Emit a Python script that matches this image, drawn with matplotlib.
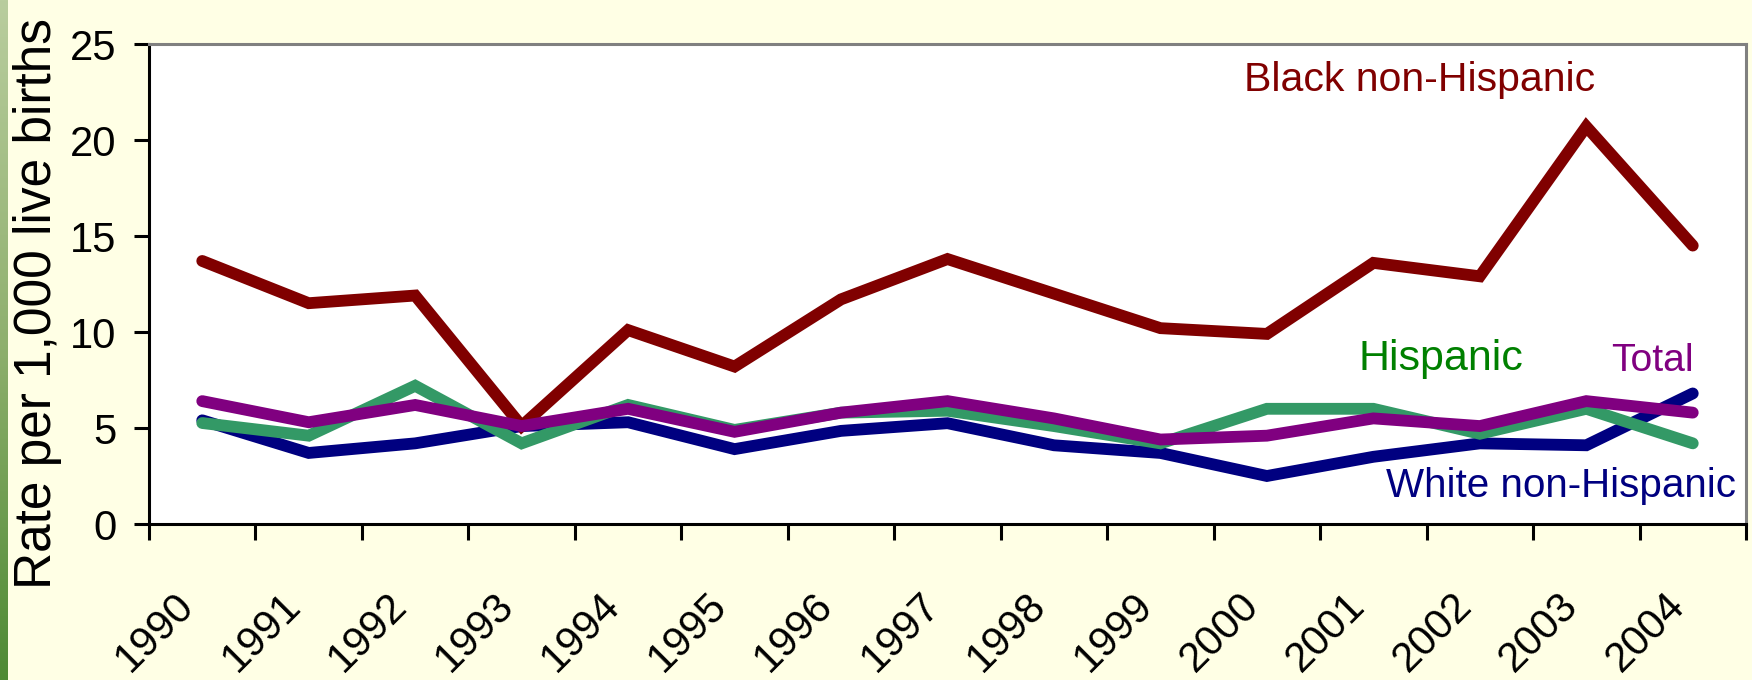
import numpy as np
import matplotlib
matplotlib.use("Agg")
import matplotlib.pyplot as plt
from matplotlib import font_manager

years = ["1990", "1991", "1992", "1993", "1994", "1995", "1996", "1997",
         "1998", "1999", "2000", "2001", "2002", "2003", "2004"]
black = [13.7, 11.5, 11.9, 5.1, 10.1, 8.2, 11.7, 13.8, 12.0, 10.2, 9.9, 13.6, 12.9, 20.7, 14.5]
white = [5.4, 3.7, 4.2, 5.1, 5.3, 3.9, 4.85, 5.25, 4.1, 3.7, 2.5, 3.5, 4.2, 4.1, 6.8]
hispanic = [5.26, 4.6, 7.2, 4.2, 6.2, 4.9, 5.8, 5.9, 5.1, 4.2, 6.0, 6.0, 4.7, 6.0, 4.2]
total = [6.4, 5.3, 6.2, 5.1, 6.0, 4.8, 5.8, 6.4, 5.5, 4.4, 4.6, 5.5, 5.1, 6.4, 5.8]

# narrow face if there is one, otherwise plain Liberation Sans a bit smaller
names = {f.name for f in font_manager.fontManager.ttflist}
if "Liberation Sans Narrow" in names:
    nf, k = "Liberation Sans Narrow", 1.0
else:
    nf, k = "Liberation Sans", 0.91
plt.rcParams["font.family"] = ["Liberation Sans", "DejaVu Sans"]

bg = "#FFFFE5"
fig = plt.figure(figsize=(17.52, 6.8), dpi=100, facecolor=bg)

# green strip on the left edge
strip = fig.add_axes([0, 0, 8 / 1752, 1])
grad = np.linspace(0, 1, 256).reshape(-1, 1)
cmap = matplotlib.colors.LinearSegmentedColormap.from_list("g", ["#B9CD9E", "#8FB06E", "#4E8A34"])
strip.imshow(grad, aspect="auto", cmap=cmap, extent=[0, 1, 0, 1], origin="upper")
strip.axis("off")

ax = fig.add_axes([149 / 1752, 1 - 524 / 680, (1746 - 149) / 1752, (524 - 44) / 680])
ax.set_facecolor("white")
x = np.arange(len(years))
style = dict(lw=8.5, solid_capstyle="round", solid_joinstyle="miter")
ax.plot(x, white, color="#000080", zorder=3, **style)
ax.plot(x, hispanic, color="#339966", zorder=4, **style)
ax.plot(x, black, color="#800000", zorder=5, **style)
ax.plot(x, total, color="#800080", zorder=6, **style)

ax.set_xlim(-0.5, len(years) - 0.5)
ax.set_ylim(0, 25)

for s in ["left", "bottom"]:
    ax.spines[s].set_color("black")
    ax.spines[s].set_linewidth(2.2)
for s in ["top", "right"]:
    ax.spines[s].set_color("#808080")
    ax.spines[s].set_linewidth(2.2)

ax.set_yticks(range(0, 26, 5))
ax.tick_params(axis="y", direction="out", length=10.5, width=2.2, pad=13,
               labelsize=33 * k, labelfontfamily=nf)
ax.set_xticks(x)
ax.set_xticklabels(years, rotation=45, ha="right", va="top", fontsize=33 * k, family=nf)
ax.tick_params(axis="x", which="major", length=0, pad=44)
ax.set_xticks(np.arange(-0.5, len(years), 1), minor=True)
ax.tick_params(axis="x", which="minor", direction="out", length=11.5, width=2.2)

fig.text(0.0215, 0.553, "Rate per 1,000 live births", rotation=90, ha="center", va="center",
         fontsize=37)

ax.text(11.43, 22.55, "Black non-Hispanic", color="#800000", ha="center", va="baseline",
        fontsize=32.5 * k, family=nf)
ax.text(11.63, 8.0, "Hispanic", color="#008000", ha="center", va="baseline",
        fontsize=34 * k, family=nf)
ax.text(13.62, 7.95, "Total", color="#800080", ha="center", va="baseline",
        fontsize=31 * k, family=nf)
ax.text(12.76, 1.4, "White non-Hispanic", color="#000080", ha="center", va="baseline",
        fontsize=32 * k, family=nf)

fig.savefig("out.png", dpi=100, facecolor=bg)
